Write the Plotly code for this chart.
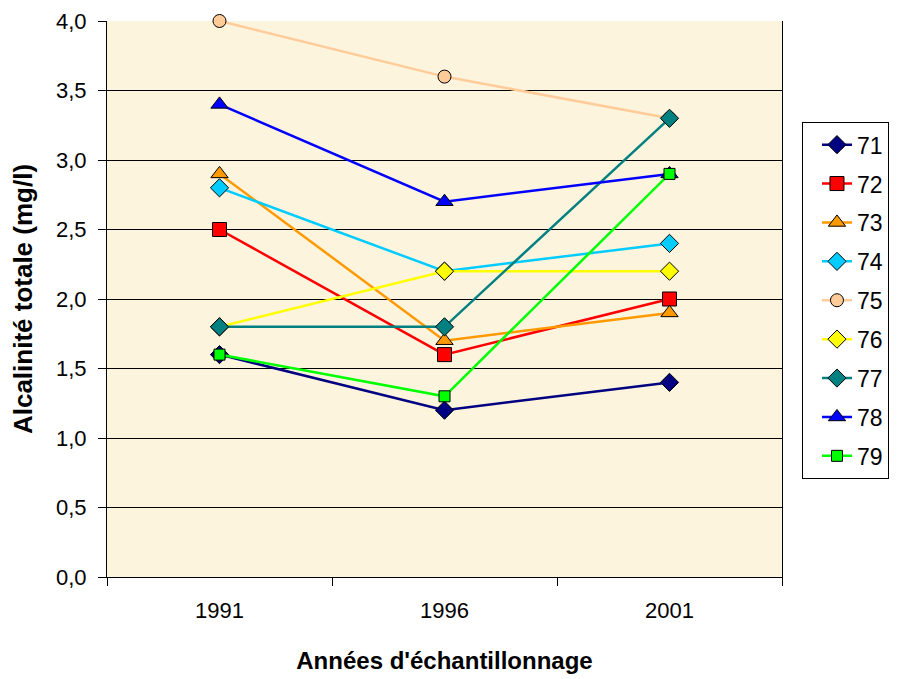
import plotly.graph_objects as go

years = ["1991", "1996", "2001"]
series_names = ["71", "72", "73", "74", "75", "76", "77", "78", "79"]
v71 = [1.6, 1.2, 1.4]
v72 = [2.5, 1.6, 2.0]
v73 = [2.9, 1.7, 1.9]
v74 = [2.8, 2.2, 2.4]
v75 = [4.0, 3.6, 3.3]
v76 = [1.8, 2.2, 2.2]
v77 = [1.8, 1.8, 3.3]
v78 = [3.4, 2.7, 2.9]
v79 = [1.6, 1.3, 2.9]
values = [v71, v72, v73, v74, v75, v76, v77, v78, v79]
y_ticks = [0, 0.5, 1, 1.5, 2, 2.5, 3, 3.5, 4]

colors = ["#000080", "#FF0000", "#FF9900", "#00CCFF", "#FFCC99",
          "#FFFF00", "#008080", "#0000FF", "#00FF00"]
symbols = ["diamond", "square", "triangle-up", "diamond", "circle",
           "diamond", "diamond", "triangle-up", "square"]
sizes = [14, 14, 15, 14, 13, 14, 14, 15, 11]

fig = go.Figure()
for name, vals, c, s, sz in zip(series_names, values, colors, symbols, sizes):
    fig.add_trace(go.Scatter(
        x=years, y=vals, name=name, mode="lines+markers",
        line=dict(color=c, width=2.5),
        marker=dict(symbol=s, size=sz, color=c, line=dict(color="black", width=1)),
        cliponaxis=False, legendgroup=name,
    ))

fig.update_layout(
    width=891, height=671,
    margin=dict(l=99, r=117, t=13, b=102, autoexpand=False),
    paper_bgcolor="white",
    plot_bgcolor="#FDF4DE",
    separators=",.",
    font=dict(family="Liberation Sans, Arial, sans-serif", color="black"),
    showlegend=True,
    legend=dict(
        x=1.0296, y=0.818, xanchor="left", yanchor="top",
        bordercolor="black", borderwidth=1, bgcolor="white",
        font=dict(size=23, color="black"),
        tracegroupgap=6, traceorder="grouped", indentation=14,
    ),
    xaxis=dict(
        type="category", range=[-0.5, 2.5], tickson="boundaries",
        ticks="outside", ticklen=8, automargin=False, ticklabelstandoff=14,
        tickcolor="black", showline=True, linecolor="black", linewidth=1,
        mirror=False, showgrid=False, tickfont=dict(size=22),
        title=dict(text="<b>Années d'échantillonnage</b>", font=dict(size=24), standoff=29),
    ),
    yaxis=dict(
        range=[0, 4], tickvals=y_ticks, tickformat=".1f", ticks="outside",
        ticklen=8, tickcolor="black", showline=True, linecolor="black",
        linewidth=1, mirror=True, showgrid=True, gridcolor="black",
        gridwidth=1, zeroline=False, tickfont=dict(size=22), automargin=False,
        ticklabelstandoff=7,
        title=dict(text="<b>Alcalinité totale (mg/l)</b>", font=dict(size=26), standoff=17),
    ),
)

fig.write_html("out.html")
